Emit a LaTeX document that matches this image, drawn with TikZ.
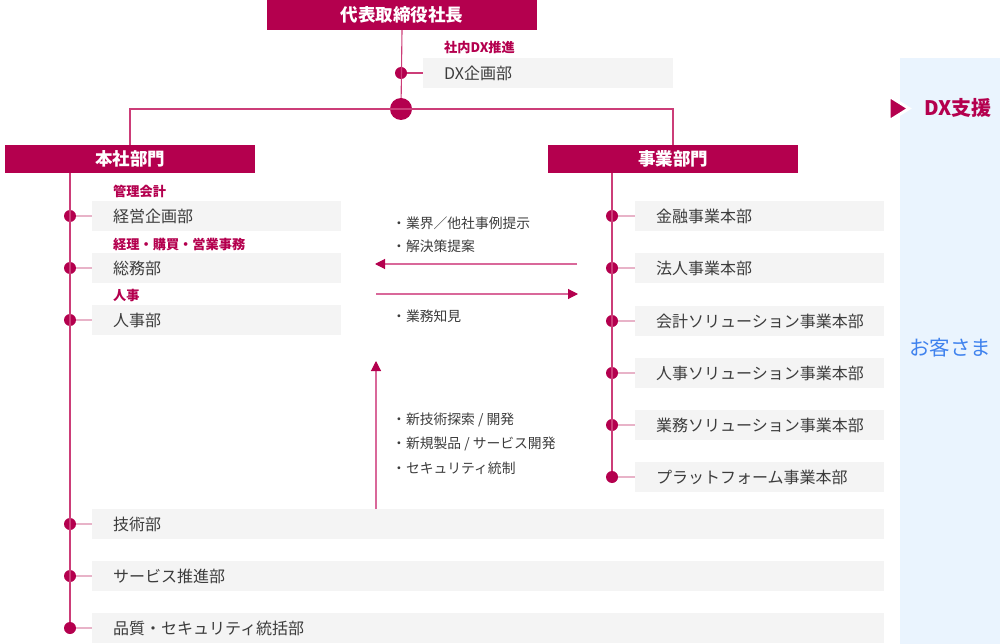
\documentclass[tikz,border=0pt]{standalone}
\usepackage{fontspec}
\setmainfont{Noto Sans CJK JP}
\usetikzlibrary{arrows.meta}
\definecolor{mag}{HTML}{B4004E}
\definecolor{trunkc}{HTML}{CC3D78}
\definecolor{stubc}{HTML}{E8B3C8}
\definecolor{arrc}{HTML}{D9689A}
\definecolor{boxc}{HTML}{F4F4F4}
\definecolor{txtc}{HTML}{3C3C3C}
\definecolor{panelc}{HTML}{EAF4FE}
\definecolor{bluet}{HTML}{3F82EE}
\tikzset{
  head/.style={fill=mag, text=white, minimum width=250pt, minimum height=28pt, inner sep=0pt,
    font=\fontsize{17.5}{19}\selectfont\bfseries},
  item/.style={fill=boxc, text=txtc, anchor=west, minimum height=30pt, inner sep=0pt,
    align=left, font=\fontsize{16}{18}\selectfont},
  dot/.style={circle, fill=mag, minimum size=12pt, inner sep=0pt},
  bigdot/.style={circle, fill=mag, minimum size=22pt, inner sep=0pt},
  trunk/.style={draw=trunkc, line width=1.1pt},
  stub/.style={draw=stubc, line width=1.6pt},
  lbl/.style={text=mag, anchor=west, inner sep=0pt, font=\fontsize{13.2}{15}\selectfont\bfseries},
  bul/.style={text=txtc, anchor=west, inner sep=0pt, font=\fontsize{13.8}{15}\selectfont},
  arr/.style={draw=arrc, line width=1.1pt, -{Triangle[length=10pt,width=10pt,color=mag]}},
}
\begin{document}
\begin{tikzpicture}[x=1pt,y=-1pt]
\useasboundingbox (0,0) rectangle (1000,644);
% customer panel
\fill[panelc] (900,58) rectangle (1000,644);
\node[text=bluet, font=\fontsize{20.5}{22}\selectfont] (cust) at (950,348) {お客さま};
\fill[mag, draw=white, line width=3pt, line join=miter] (889,96) -- (909,108.5) -- (889,121) -- cycle;
\node[text=mag, font=\fontsize{20}{22}\selectfont\bfseries] (dxs) at (958,108) {DX支援};

% top
\node[head, minimum width=270pt, minimum height=30pt] (ceo) at (402,15) {代表取締役社長};
\node[dot] (dxdot) at (401,73) {};
\node[bigdot] (hub) at (401,109) {};
\node[item, minimum width=250pt, text width=208pt, inner xsep=21pt] (dx) at (423,73) {DX企画部};
\node[lbl] (dxl) at (444,47) {社内DX推進};
\draw[trunk] (ceo.south) -- (hub);
\draw[stub, draw=trunkc, line width=1.1pt] (dxdot) -- (dx.west);

\node[head] (honsha) at (130,159) {本社部門};
\node[head] (jigyo) at (673,159) {事業部門};
\draw[trunk] (honsha.north) -- (honsha.north |- hub) -- (jigyo.north |- hub) -- (jigyo.north);

% left items
\foreach \n/\y/\t in {1/216/経営企画部, 2/268/総務部, 3/320/人事部}{
  \node[item, minimum width=249pt, text width=207pt, inner xsep=21pt] (lb\n) at (92,\y) {\t};
}
\foreach \n/\y/\t in {4/524/技術部, 5/576/サービス推進部, 6/628/品質・セキュリティ統括部}{
  \node[item, minimum width=792pt, text width=750pt, inner xsep=21pt] (lb\n) at (92,\y) {\t};
}
\foreach \n/\y in {1/216,2/268,3/320,4/524,5/576,6/628}{
  \node[dot] (ld\n) at (70,\y) {};
  \draw[stub] (ld\n) -- (lb\n.west);
}
\node[lbl] (l1) at (113,191) {管理会計};
\node[lbl] (l2) at (113,244) {経理・購買・営業事務};
\node[lbl] (l3) at (113,296) {人事};
\draw[trunk] (honsha.south -| ld6) -- (ld6);

% right items
\foreach \n/\y/\t in {1/216/金融事業本部, 2/268/法人事業本部, 3/321/会計ソリューション事業本部,
  4/373/人事ソリューション事業本部, 5/425/業務ソリューション事業本部, 6/477/プラットフォーム事業本部}{
  \node[item, minimum width=249pt, text width=207pt, inner xsep=21pt] (rb\n) at (635,\y) {\t};
  \node[dot] (rd\n) at (612,\y) {};
  \draw[stub] (rd\n) -- (rb\n.west);
}
\draw[trunk] (jigyo.south -| rd6) -- (rd6);

% arrows
\coordinate (a1s) at (577,264);
\coordinate (a1e) at (375,264);
\coordinate (a2s) at (376,294);
\coordinate (a2e) at (578,294);
\coordinate (a3s) at (376,509);
\coordinate (a3e) at (376,361);
\draw[arr] (a1s) -- (a1e);
\draw[arr] (a2s) -- (a2e);
\draw[arr] (a3s) -- (a3e);

\node[bul] (t1) at (392,223) {・業界／他社事例提示};
\node[bul] (t2) at (392,246) {・解決策提案};
\node[bul] (t3) at (392,316) {・業務知見};
\node[bul] (t4) at (392,420) {・新技術探索 / 開発};
\node[bul] (t5) at (392,444) {・新規製品 / サービス開発};
\node[bul] (t6) at (392,468) {・セキュリティ統制};
\end{tikzpicture}
\end{document}
